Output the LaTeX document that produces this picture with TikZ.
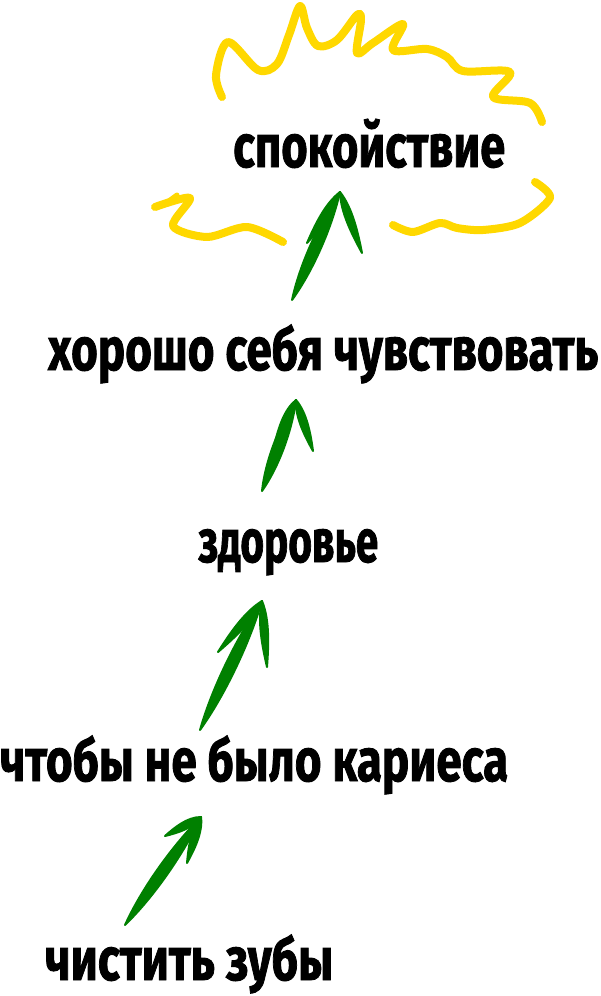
\documentclass[tikz,border=0pt]{standalone}
\usepackage{fontspec}
\setmainfont{Fira Sans}[BoldFeatures={FakeBold=1.6}]
\usepackage{graphicx}
\usetikzlibrary{calc}
\definecolor{brushgreen}{RGB}{0,128,0}
\definecolor{sunyellow}{RGB}{255,216,0}
\newcommand\taperline[4]{%
  \filldraw[brushgreen,line width=2pt,line join=round]
    (#1) .. controls ($(#1)!0.3!(#2)!#3!90:(#2)$) and ($(#1)!0.7!(#2)!#4!90:(#2)$) .. (#2)
    .. controls ($(#1)!0.7!(#2)!#4!-90:(#2)$) and ($(#1)!0.3!(#2)!#3!-90:(#2)$) .. (#1) -- cycle;}
\newcommand\brusharrow[4]{%
  \taperline{#1}{#2}{7.5pt}{7pt}
  \taperline{#2}{#3}{6.5pt}{3pt}
  \taperline{#2}{#4}{6.5pt}{3pt}}
\tikzset{
  label/.style={anchor=base west,inner sep=0pt,font=\bfseries\fontsize{60}{70}\selectfont},
  sun/.style={sunyellow,line width=8pt,line cap=round,line join=round}
}
\begin{document}
\begin{tikzpicture}[x=1pt,y=-1pt]
\useasboundingbox[fill=white] (0,0) rectangle (600,996);
% text nodes
\node[label] (calm) at (233,167) {\resizebox{272pt}{\height}{спокойствие}};
\node[label] (feel) at (48,370) {\resizebox{550pt}{\height}{хорошо себя чувствовать}};
\node[label] (health) at (198,562) {\resizebox{180pt}{\height}{здоровье}};
\node[label] (caries) at (0,781) {\resizebox{508pt}{\height}{чтобы не было кариеса}};
\node[label] (brush) at (45,980) {\resizebox{288pt}{\height}{чистить зубы}};
% arrow coordinates
\coordinate (a1t) at (292,300); \coordinate (a1h) at (340,192);
\coordinate (a1l) at (307,243); \coordinate (a1r) at (362,253);
\coordinate (a2t) at (262,491); \coordinate (a2h) at (296,400);
\coordinate (a2l) at (275,442); \coordinate (a2r) at (313,451);
\coordinate (a3t) at (200,730); \coordinate (a3h) at (262,601);
\coordinate (a3l) at (218,652); \coordinate (a3r) at (267,667);
\coordinate (a4t) at (125,925); \coordinate (a4h) at (201,817);
\coordinate (a4l) at (165,836); \coordinate (a4r) at (187,863);
\brusharrow{a1t}{a1h}{a1l}{a1r}
\brusharrow{a2t}{a2h}{a2l}{a2r}
\brusharrow{a3t}{a3h}{a3l}{a3r}
\brusharrow{a4t}{a4h}{a4l}{a4r}
% sun rays
\draw[sun] plot[smooth,tension=0.55] coordinates {(222,97) (216,75) (228,42) (258,70) (277,64) (289,35) (300,6) (307,28) (318,46) (337,40) (357,15) (361,20) (357,53) (373,43) (403,24) (393,50) (427,49) (447,57) (463,71) (510,72) (493,97) (530,103) (542,122)};
\draw[sun] plot[smooth,tension=0.5] coordinates {(155,207) (190,198) (173,226) (207,237) (247,227) (283,242)};
\draw[sun,line width=5pt] (177,195) -- (166,203);
\draw[sun] plot[smooth,tension=0.5] coordinates {(393,225) (413,232) (440,223) (457,228) (483,230) (520,223) (550,198) (535,182)};
\end{tikzpicture}
\end{document}
